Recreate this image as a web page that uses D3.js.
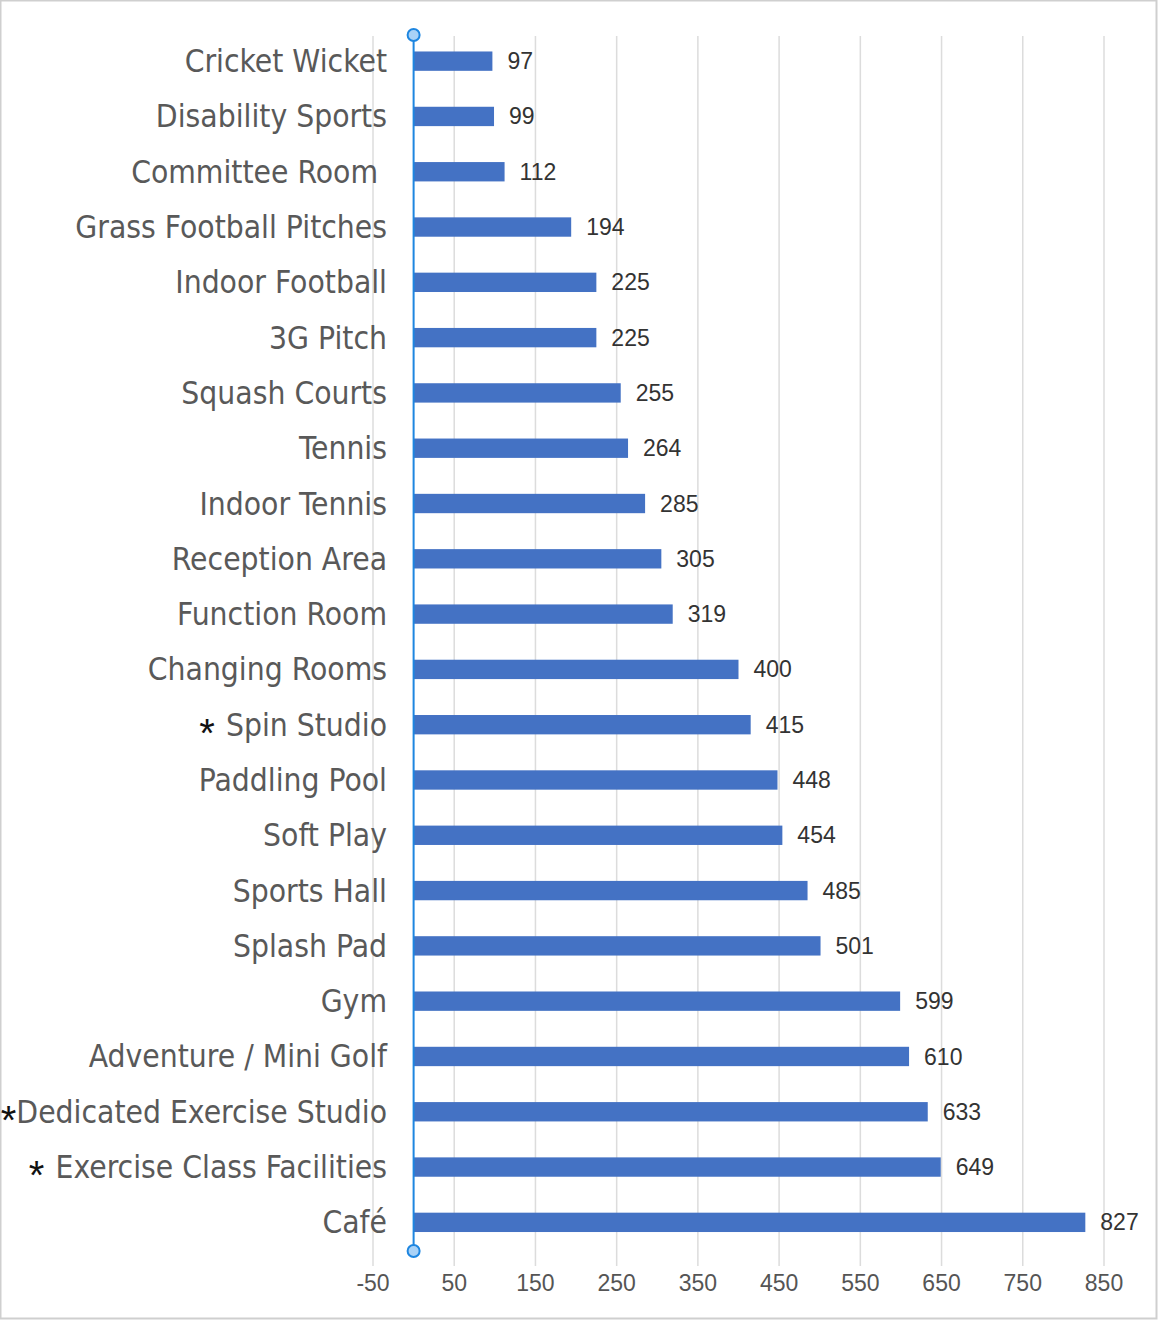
<!DOCTYPE html>
<html>
<head>
<meta charset="utf-8">
<script src="https://cdn.jsdelivr.net/npm/d3@7"></script>
<style>
  body { margin: 0; background: #fff; }
  svg { display: block; }
  .cat { white-space: pre; }
</style>
</head>
<body>
<svg id="chart" width="1158" height="1320"></svg>
<script>
var facilities = ['Cricket Wicket', 'Disability Sports', 'Committee Room ', 'Grass Football Pitches',
  'Indoor Football', '3G Pitch', 'Squash Courts', 'Tennis', 'Indoor Tennis', 'Reception Area',
  'Function Room', 'Changing Rooms', 'Spin Studio', 'Paddling Pool', 'Soft Play', 'Sports Hall',
  'Splash Pad', 'Gym', 'Adventure / Mini Golf', 'Dedicated Exercise Studio',
  'Exercise Class Facilities', 'Café'];
var votes = [97, 99, 112, 194, 225, 225, 255, 264, 285, 305, 319, 400, 415, 448, 454, 485, 501,
  599, 610, 633, 649, 827];
// labels drawn with a leading asterisk (and what follows it)
var starred = {'Spin Studio': '* ', 'Dedicated Exercise Studio': '*', 'Exercise Class Facilities': '* '};
var tickValues = [-50, 50, 150, 250, 350, 450, 550, 650, 750, 850];

var svg = d3.select('#chart');

svg.append('rect')
  .attr('x', 0.5).attr('y', 0.5)
  .attr('width', 1156).attr('height', 1318)
  .attr('fill', '#fff')
  .attr('stroke', '#cfcfcf')
  .attr('stroke-width', 2);

var x = d3.scaleLinear().domain([-50, 850]).range([373, 1104]);
var y = d3.scaleBand().domain(facilities).range([33.5, 1250]).paddingInner(0.65).paddingOuter(0.325);

// gridlines
svg.append('g').selectAll('line')
  .data(tickValues)
  .enter().append('line')
    .attr('x1', function(d) { return x(d); })
    .attr('x2', function(d) { return x(d); })
    .attr('y1', 36)
    .attr('y2', 1266)
    .attr('stroke', '#dcdcdc')
    .attr('stroke-width', 1.5);

// tick labels
svg.append('g').selectAll('text')
  .data(tickValues)
  .enter().append('text')
    .attr('x', function(d) { return x(d); })
    .attr('y', 1283)
    .attr('dy', '0.35em')
    .attr('text-anchor', 'middle')
    .attr('font-family', 'Liberation Sans, Arial, sans-serif')
    .attr('font-size', 23)
    .attr('fill', '#555')
    .text(function(d) { return d; });

// bars
svg.append('g').selectAll('rect')
  .data(facilities)
  .enter().append('rect')
    .attr('x', x(0))
    .attr('y', function(d) { return y(d); })
    .attr('width', function(d, i) { return x(votes[i]) - x(0); })
    .attr('height', y.bandwidth())
    .attr('fill', '#4472c4');

// value labels
svg.append('g').selectAll('text')
  .data(facilities)
  .enter().append('text')
    .attr('x', function(d, i) { return x(votes[i]) + 15; })
    .attr('y', function(d) { return y(d) + y.bandwidth() / 2; })
    .attr('dy', '0.35em')
    .attr('font-family', 'Liberation Sans, Arial, sans-serif')
    .attr('font-size', 23)
    .attr('fill', '#333')
    .text(function(d, i) { return votes[i]; });

// category labels
var cats = svg.append('g').selectAll('text')
  .data(facilities)
  .enter().append('text')
    .attr('class', 'cat')
    .attr('x', 387)
    .attr('y', function(d) { return y(d) + y.bandwidth() / 2 + 11; })
    .attr('text-anchor', 'end')
    .attr('font-family', 'DejaVu Sans Condensed, DejaVu Sans, sans-serif')
    .attr('font-stretch', 'condensed')
    .attr('font-size', 31.5)
    .attr('fill', '#595959');

// asterisk sits lower than a normal one, centred on the text
cats.filter(function(d) { return starred.hasOwnProperty(d); })
  .append('tspan')
    .attr('fill', '#111')
    .attr('font-family', 'Liberation Sans, Arial, sans-serif')
    .attr('font-size', 40)
    .attr('dy', 11)
    .text(function(d) { return starred[d]; });
cats.append('tspan')
  .attr('dy', function(d) { return starred.hasOwnProperty(d) ? -11 : null; })
  .text(function(d) { return d; });

// axis line with end handles
svg.append('line')
  .attr('x1', x(0)).attr('x2', x(0))
  .attr('y1', 35).attr('y2', 1251)
  .attr('stroke', '#1e86e0')
  .attr('stroke-width', 2);

svg.append('g').selectAll('circle')
  .data([35, 1251])
  .enter().append('circle')
    .attr('cx', x(0))
    .attr('cy', function(d) { return d; })
    .attr('r', 6)
    .attr('fill', '#a9d2f7')
    .attr('stroke', '#1e86e0')
    .attr('stroke-width', 2);
</script>
</body>
</html>
